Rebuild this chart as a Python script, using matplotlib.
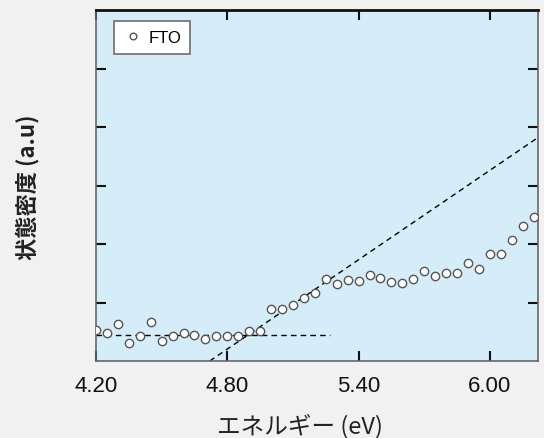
import numpy as np
import matplotlib.pyplot as plt

plt.rcParams['font.family'] = ['Liberation Sans', 'Noto Sans CJK JP', 'DejaVu Sans']

# energy (eV) and density of states
energy = [4.20, 4.25, 4.30, 4.35, 4.40, 4.45, 4.50, 4.55, 4.60, 4.65,
          4.70, 4.75, 4.80, 4.85, 4.90, 4.95, 5.00, 5.05, 5.10, 5.15,
          5.20, 5.25, 5.30, 5.35, 5.40, 5.45, 5.50, 5.55, 5.60, 5.65,
          5.70, 5.75, 5.80, 5.85, 5.90, 5.95, 6.00, 6.05, 6.10, 6.15, 6.20]
dos = [0.53, 0.48, 0.63, 0.31, 0.43, 0.67, 0.35, 0.43, 0.48, 0.44,
       0.38, 0.43, 0.43, 0.43, 0.52, 0.51, 0.89, 0.89, 0.96, 1.08,
       1.17, 1.41, 1.31, 1.39, 1.36, 1.47, 1.42, 1.35, 1.33, 1.41,
       1.53, 1.45, 1.51, 1.51, 1.67, 1.57, 1.83, 1.83, 2.07, 2.31, 2.47]

# guide lines: baseline and linear fit of the rising edge
base_x = [4.20, 5.27]
base_y = [0.44, 0.44]
fit_x = [4.72, 6.22]
fit_y = [0.0, 3.82]

xticks = [4.20, 4.80, 5.40, 6.00]
xticklabels = ['4.20', '4.80', '5.40', '6.00']

fig = plt.figure(figsize=(5.44, 4.39), dpi=100, facecolor='#f1f1f1')
ax = fig.add_axes([0.1765, 0.1754, 0.8125, 0.7995])
ax.set_facecolor('#d5ecf9')

ax.plot(base_x, base_y, color='black', lw=1, ls=(0, (4, 3)), zorder=2)
ax.plot(fit_x, fit_y, color='black', lw=1, ls=(0, (4, 3)), zorder=2)
ax.plot(energy, dos, 'o', ms=6, mfc='white', mec='#555555', mew=1,
        label='FTO', zorder=3)

ax.set_xlim(4.20, 6.22)
ax.set_ylim(0, 6)
ax.set_xticks(xticks)
ax.set_xticklabels(xticklabels)
ax.set_yticks([1, 2, 3, 4, 5])
ax.set_yticklabels([])
ax.tick_params(axis='both', direction='in', length=7, width=1.5,
               top=True, right=True, labelsize=16, pad=10, colors='#111111')

for side in ['left', 'bottom', 'right']:
    ax.spines[side].set_color('#666666')
    ax.spines[side].set_linewidth(1.2)
ax.spines['top'].set_color('#111111')
ax.spines['top'].set_linewidth(2)

cjk = ['Noto Sans CJK JP', 'DejaVu Sans']
fig.text(299.5 / 544, 1 - 426 / 439, 'エネルギー (eV)', fontsize=17,
         family=cjk, ha='center', va='center', color='#222222')
fig.text(27.5 / 544, 1 - 187.5 / 439, '状態密度 (a.u)', fontsize=16,
         fontweight='bold', family=cjk, rotation=90,
         ha='center', va='center', color='#222222')

leg = ax.legend(loc='upper left', bbox_to_anchor=(0.0407, 0.9687),
                borderaxespad=0, fontsize=12, frameon=True, fancybox=False,
                markerscale=0.8, handlelength=1.2, handletextpad=0.3,
                borderpad=0.55)
leg.get_frame().set_edgecolor('#777777')
leg.get_frame().set_linewidth(1.3)
leg.get_frame().set_facecolor('white')
leg.get_frame().set_alpha(1)

fig.savefig('out.png', dpi=100, facecolor=fig.get_facecolor())
